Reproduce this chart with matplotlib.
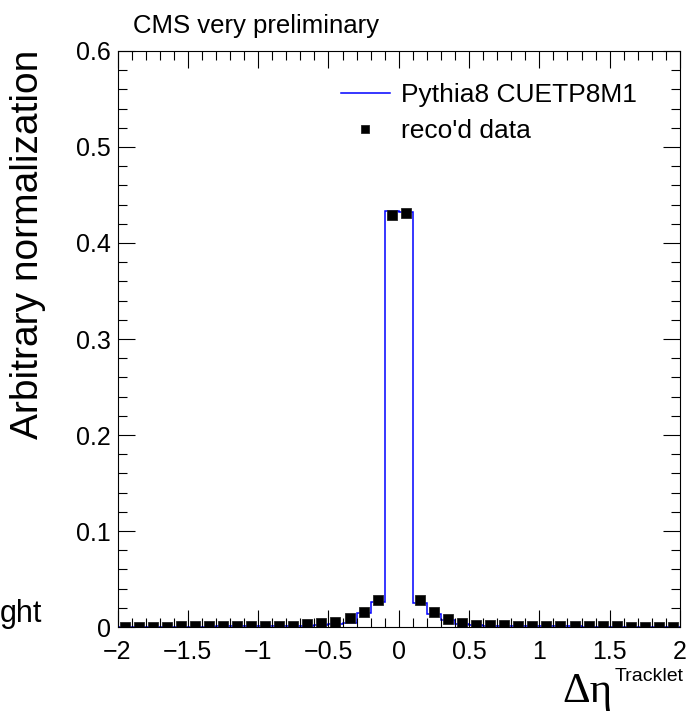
import numpy as np
import matplotlib
matplotlib.use("Agg")
import matplotlib.pyplot as plt
from matplotlib.ticker import MultipleLocator, FixedLocator

# --- DATA ---
bin_edges = np.round(np.arange(-2.0, 2.0001, 0.1), 2)
bin_centers = np.round(bin_edges[:-1] + 0.05, 2)

# reco'd data (black squares), one value per bin
data_vals = [0.0005, 0.0005, 0.0005, 0.0005, 0.001, 0.001, 0.001, 0.001,
             0.001, 0.001, 0.0012, 0.0015, 0.0015, 0.003, 0.0045, 0.005,
             0.009, 0.016, 0.028, 0.429, 0.431, 0.028, 0.016, 0.008,
             0.004, 0.002, 0.002, 0.002, 0.0015, 0.001, 0.001, 0.001,
             0.001, 0.001, 0.001, 0.001, 0.0005, 0.0005, 0.0005, 0.0005]

# Pythia8 CUETP8M1 (blue histogram)
mc_vals = [0.0003, 0.0003, 0.0003, 0.0004, 0.0004, 0.0005, 0.0005, 0.0006,
           0.0007, 0.0008, 0.0009, 0.001, 0.0012, 0.0015, 0.002, 0.003,
           0.004, 0.0146, 0.026, 0.433, 0.432, 0.025, 0.014, 0.007,
           0.003, 0.002, 0.0015, 0.0012, 0.001, 0.0009, 0.0008, 0.0007,
           0.0006, 0.0005, 0.0005, 0.0004, 0.0004, 0.0003, 0.0003, 0.0003]

x_tick_vals = [-2, -1.5, -1, -0.5, 0, 0.5, 1, 1.5, 2]
x_tick_labels = ["\u22122", "\u22121.5", "\u22121", "\u22120.5", "0", "0.5", "1", "1.5", "2"]
y_tick_vals = [0, 0.1, 0.2, 0.3, 0.4, 0.5, 0.6]
y_tick_labels = ["0", "0.1", "0.2", "0.3", "0.4", "0.5", "0.6"]

plt.rcParams['font.family'] = ['Liberation Sans', 'DejaVu Sans']

fig = plt.figure(figsize=(6.9, 7.11), dpi=100)
ax = fig.add_axes([0.1703, 0.1181, 0.8152, 0.8102])

# histogram outline
ax.stairs(mc_vals, bin_edges, color='#0000ff', linewidth=1.1, baseline=None,
          label='Pythia8 CUETP8M1')
ax.plot(bin_centers, data_vals, linestyle='none', marker='s', markersize=7.3,
        color='black', markeredgecolor='#222222', markeredgewidth=0.6,
        label="reco'd data")

ax.set_xlim(-2, 2)
ax.set_ylim(0, 0.6)

ax.xaxis.set_major_locator(FixedLocator(x_tick_vals))
ax.set_xticklabels(x_tick_labels)
ax.xaxis.set_minor_locator(MultipleLocator(0.1))
ax.yaxis.set_major_locator(FixedLocator(y_tick_vals))
ax.set_yticklabels(y_tick_labels)
ax.yaxis.set_minor_locator(MultipleLocator(0.02))

ax.tick_params(which='both', direction='in', top=True, right=True,
               labelsize=18, width=0.8, color='black')
ax.tick_params(which='major', length=12.5)
ax.tick_params(which='minor', length=6.3)
ax.tick_params(axis='x', which='major', pad=9)
ax.tick_params(axis='y', which='major', pad=5)
for sp in ax.spines.values():
    sp.set_linewidth(0.8)

ax.legend(loc='upper left', bbox_to_anchor=(0.378, 0.962), frameon=False,
          fontsize=19, handlelength=1.85, handletextpad=0.45,
          labelspacing=0.45, borderaxespad=0, numpoints=1, markerscale=0.8)

ax.set_ylabel('Arbitrary normalization', fontsize=28)
ax.yaxis.set_label_coords(-0.128, 0.665)

fig.text(0.193, 0.963, 'CMS very preliminary', fontsize=18.5, va='center', ha='left')
fig.text(0.0, 0.137, 'ght', fontsize=22, va='center', ha='left')

# x axis title: Delta eta with superscript
fig.text(0.887, 0.012, '\u0394\u03b7', fontsize=31, family='Liberation Serif',
         ha='right', va='baseline')
fig.text(0.891, 0.042, 'Tracklet', fontsize=14, ha='left', va='baseline')

fig.savefig('out.png', dpi=100)
